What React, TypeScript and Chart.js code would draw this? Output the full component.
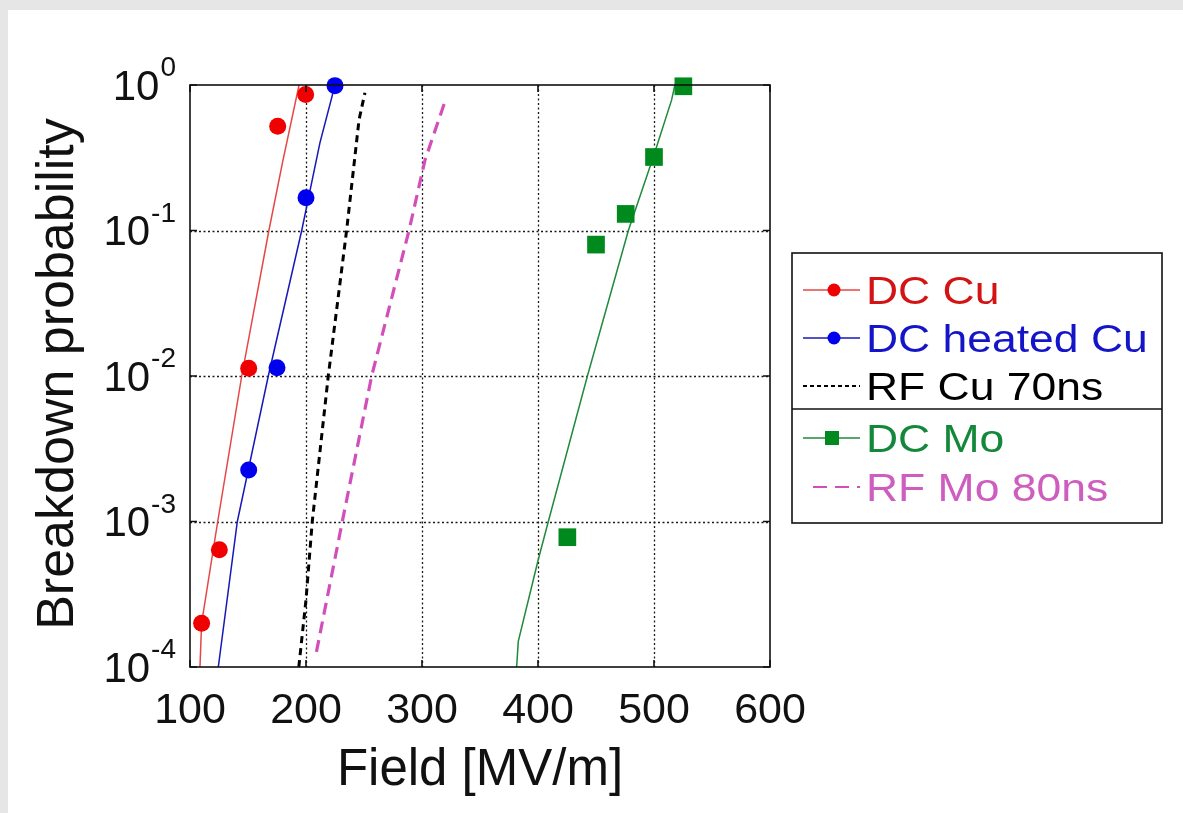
import React, { useEffect, useRef } from 'react';
import { Chart, registerables } from 'chart.js';

Chart.register(...registerables);

// ---------- data ----------
const xTicks = [100, 200, 300, 400, 500, 600];
const yTicks = [1e-4, 1e-3, 1e-2, 1e-1, 1];
const yTickExponents = ['-4', '-3', '-2', '-1', '0'];

const dcCuField = [110, 125.3, 150.6, 175.6, 199.7];
const dcCuProb = [2.0e-4, 6.4e-4, 0.0113, 0.52, 0.86];
const dcCuFitField = [108.6, 110, 123.9, 144.6, 168, 180, 194];
const dcCuFitProb = [1e-4, 2e-4, 1e-3, 1e-2, 1e-1, 0.3, 1];

const dcHeatedField = [150.6, 175, 200, 225];
const dcHeatedProb = [2.26e-3, 0.0114, 0.168, 0.99];
const dcHeatedFitField = [124.4, 140.8, 167.5, 196.3, 212, 225];
const dcHeatedFitProb = [1e-4, 1e-3, 1e-2, 1e-1, 0.4, 1];

const rfCuField = [193.8, 200, 205.4, 219.2, 235, 245.7, 250.8];
const rfCuProb = [1e-4, 2.9e-4, 1e-3, 1e-2, 1e-1, 0.575, 0.885];

const dcMoField = [425.3, 450, 475.6, 500, 525.3];
const dcMoProb = [7.8e-4, 0.08, 0.13, 0.32, 0.98];
const dcMoFitField = [381.6, 383, 400.3, 408.9, 442.6, 477.9, 499.4, 515.2, 518];
const dcMoFitProb = [1e-4, 1.5e-4, 5.5e-4, 1e-3, 1e-2, 1e-1, 0.32, 0.79, 1];

const rfMoField = [209, 231.3, 256.6, 288.8, 302.6, 319.8];
const rfMoProb = [1.27e-4, 1e-3, 1e-2, 1e-1, 0.305, 0.77];

const legendLabels = ['DC Cu', 'DC heated Cu', 'RF Cu 70ns', 'DC Mo', 'RF Mo 80ns'];

const xTitle = 'Field [MV/m]';
const yTitle = 'Breakdown probability';

// ---------- styles ----------
const FONT = '"Liberation Sans", Arial, Helvetica, sans-serif';
const RED = '#f00000';
const RED_LINE = 'rgb(230,70,70)';
const BLUE = '#0000ee';
const BLUE_LINE = '#1818b8';
const GREEN = '#008a1e';
const GREEN_LINE = '#1f8a3c';
const MAGENTA = '#d24fb9';

const pts = (xs: number[], ys: number[]) => xs.map((v, i) => ({ x: v, y: ys[i] }));

const customPlugin = {
  id: 'customDraw',
  beforeDraw(chart: any) {
    const { ctx, width, height } = chart;
    ctx.save();
    ctx.fillStyle = '#e6e6e6';
    ctx.fillRect(0, 0, width, height);
    ctx.fillStyle = '#ffffff';
    ctx.fillRect(8, 10, width - 8, height - 10);
    ctx.restore();
  },
  beforeDatasetsDraw(chart: any) {
    const { ctx, chartArea, scales } = chart;
    const { left, right, top, bottom } = chartArea;
    const x = scales.x;
    const y = scales.y;
    ctx.save();
    ctx.strokeStyle = '#1a1a1a';
    ctx.lineWidth = 1.3;
    ctx.setLineDash([2, 2.5]);
    xTicks.slice(1, -1).forEach((v) => {
      const px = Math.round(x.getPixelForValue(v)) + 0.5;
      ctx.beginPath();
      ctx.moveTo(px, top);
      ctx.lineTo(px, bottom);
      ctx.stroke();
    });
    yTicks.slice(1, -1).forEach((v) => {
      const py = Math.round(y.getPixelForValue(v)) + 0.5;
      ctx.beginPath();
      ctx.moveTo(left, py);
      ctx.lineTo(right, py);
      ctx.stroke();
    });
    ctx.restore();
  },
  afterDatasetsDraw(chart: any) {
    const { ctx, chartArea, scales } = chart;
    const { left, right, top, bottom } = chartArea;
    const x = scales.x;
    const y = scales.y;
    ctx.save();
    // frame
    ctx.setLineDash([]);
    ctx.strokeStyle = '#111';
    ctx.lineWidth = 1.6;
    ctx.strokeRect(left, top, right - left, bottom - top);
    // inward ticks
    const tl = 7;
    ctx.lineWidth = 1.6;
    xTicks.forEach((v) => {
      const px = x.getPixelForValue(v);
      ctx.beginPath();
      ctx.moveTo(px, bottom);
      ctx.lineTo(px, bottom - tl);
      ctx.moveTo(px, top);
      ctx.lineTo(px, top + tl);
      ctx.stroke();
    });
    yTicks.forEach((v) => {
      const py = y.getPixelForValue(v);
      ctx.beginPath();
      ctx.moveTo(left, py);
      ctx.lineTo(left + tl, py);
      ctx.moveTo(right, py);
      ctx.lineTo(right - tl, py);
      ctx.stroke();
    });

    // x tick labels
    ctx.fillStyle = '#111';
    ctx.font = `43px ${FONT}`;
    ctx.textAlign = 'center';
    ctx.textBaseline = 'alphabetic';
    xTicks.forEach((v) => {
      ctx.fillText(String(v), x.getPixelForValue(v), 723);
    });

    // y tick labels 10^n
    const rightEdge = 176;
    yTicks.forEach((v, i) => {
      const py = y.getPixelForValue(v);
      const exp = yTickExponents[i];
      ctx.textAlign = 'left';
      ctx.font = `28px ${FONT}`;
      const w2 = ctx.measureText(exp).width;
      ctx.font = `42px ${FONT}`;
      const w1 = ctx.measureText('10').width;
      ctx.fillText('10', rightEdge - w2 - w1 - 1, py + 14.5);
      ctx.font = `28px ${FONT}`;
      ctx.fillText(exp, rightEdge - w2, py - 9);
    });

    // titles
    ctx.font = `51px ${FONT}`;
    ctx.textAlign = 'center';
    ctx.fillText(xTitle, (left + right) / 2, 785);
    ctx.save();
    ctx.translate(73, (top + bottom) / 2 - 2);
    ctx.rotate(-Math.PI / 2);
    ctx.font = `52px ${FONT}`;
    ctx.fillText(yTitle, 0, 0);
    ctx.restore();

    // legend
    const bx = 792, by = 253, bw = 370, bh = 270;
    ctx.fillStyle = '#fff';
    ctx.fillRect(bx, by, bw, bh);
    ctx.strokeStyle = '#111';
    ctx.lineWidth = 1.6;
    ctx.strokeRect(bx, by, bw, bh);
    ctx.beginPath();
    ctx.moveTo(bx, 409);
    ctx.lineTo(bx + bw, 409);
    ctx.stroke();

    const rowsY = [290, 338, 386, 438, 487];
    const textColors = ['#d41414', '#1414c8', '#000000', '#13883a', '#cf5cbf'];
    const sx0 = 803, sx1 = 860, mx = 832;
    rowsY.forEach((ry, i) => {
      ctx.save();
      if (i === 0 || i === 1 || i === 3) {
        const lc = i === 0 ? RED_LINE : i === 1 ? BLUE_LINE : GREEN_LINE;
        const mc = i === 0 ? RED : i === 1 ? BLUE : GREEN;
        ctx.strokeStyle = lc;
        ctx.lineWidth = 1.5;
        ctx.setLineDash([]);
        ctx.beginPath();
        ctx.moveTo(sx0, ry);
        ctx.lineTo(sx1, ry);
        ctx.stroke();
        ctx.fillStyle = mc;
        if (i === 3) {
          ctx.fillRect(mx - 7, ry - 7, 14, 14);
        } else {
          ctx.beginPath();
          ctx.arc(mx + 2, ry, 6.5, 0, Math.PI * 2);
          ctx.fill();
        }
      } else if (i === 2) {
        ctx.strokeStyle = '#000';
        ctx.lineWidth = 2;
        ctx.setLineDash([4, 3]);
        ctx.beginPath();
        ctx.moveTo(sx0, ry);
        ctx.lineTo(sx1, ry);
        ctx.stroke();
      } else {
        ctx.strokeStyle = MAGENTA;
        ctx.lineWidth = 2;
        ctx.setLineDash([14, 8]);
        ctx.beginPath();
        ctx.moveTo(813, ry);
        ctx.lineTo(sx1, ry);
        ctx.stroke();
      }
      ctx.restore();
      ctx.save();
      ctx.translate(866, ry + 14);
      ctx.scale(1.17, 1);
      ctx.font = `38px ${FONT}`;
      ctx.textAlign = 'left';
      ctx.fillStyle = textColors[i];
      ctx.fillText(legendLabels[i], 0, 0);
      ctx.restore();
    });
    ctx.restore();
  },
};

export default function App() {
  const canvasRef = useRef<HTMLCanvasElement | null>(null);

  useEffect(() => {
    const canvas = canvasRef.current;
    if (!canvas) return;
    const chart = new Chart(canvas, {
      type: 'line',
      data: {
        datasets: [
          {
            label: 'DC Cu points',
            data: pts(dcCuField, dcCuProb),
            showLine: false,
            pointRadius: 8.5,
            pointBackgroundColor: RED,
            pointBorderColor: RED,
            pointBorderWidth: 0,
            clip: false,
          },
          {
            label: 'DC heated Cu points',
            data: pts(dcHeatedField, dcHeatedProb),
            showLine: false,
            pointRadius: 8.5,
            pointBackgroundColor: BLUE,
            pointBorderColor: BLUE,
            pointBorderWidth: 0,
            clip: false,
          },
          {
            label: 'DC Mo points',
            data: pts(dcMoField, dcMoProb),
            showLine: false,
            pointStyle: 'rect',
            pointRadius: 12.5,
            pointBackgroundColor: GREEN,
            pointBorderColor: GREEN,
            pointBorderWidth: 0,
            clip: false,
          },
          {
            label: 'DC Cu',
            data: pts(dcCuFitField, dcCuFitProb),
            borderColor: RED_LINE,
            borderWidth: 1.5,
            pointRadius: 0,
            tension: 0,
          },
          {
            label: 'DC heated Cu',
            data: pts(dcHeatedFitField, dcHeatedFitProb),
            borderColor: BLUE_LINE,
            borderWidth: 1.5,
            pointRadius: 0,
            tension: 0,
          },
          {
            label: 'RF Cu 70ns',
            data: pts(rfCuField, rfCuProb),
            borderColor: '#000',
            borderWidth: 3,
            borderDash: [7, 5],
            pointRadius: 0,
            tension: 0,
          },
          {
            label: 'DC Mo',
            data: pts(dcMoFitField, dcMoFitProb),
            borderColor: GREEN_LINE,
            borderWidth: 1.5,
            pointRadius: 0,
            tension: 0,
          },
          {
            label: 'RF Mo 80ns',
            data: pts(rfMoField, rfMoProb),
            borderColor: MAGENTA,
            borderWidth: 3.2,
            borderDash: [12, 7],
            pointRadius: 0,
            tension: 0,
          },
        ],
      },
      options: {
        animation: false,
        responsive: false,
        devicePixelRatio: 1,
        layout: { padding: { left: 0, top: 85, right: 413, bottom: 0 } },
        plugins: {
          legend: { display: false },
          tooltip: { enabled: false },
          title: { display: false },
        },
        scales: {
          x: {
            type: 'linear',
            min: 100,
            max: 600,
            grid: { display: false },
            border: { display: false },
            ticks: { display: false },
            afterBuildTicks: (s: any) => {
              s.ticks = xTicks.map((v) => ({ value: v }));
            },
            afterFit: (s: any) => {
              s.height = 146;
            },
          },
          y: {
            type: 'logarithmic',
            min: 1e-4,
            max: 1,
            grid: { display: false },
            border: { display: false },
            ticks: { display: false },
            afterBuildTicks: (s: any) => {
              s.ticks = yTicks.map((v) => ({ value: v }));
            },
            afterFit: (s: any) => {
              s.width = 190;
            },
          },
        },
      } as any,
      plugins: [customPlugin],
    });
    return () => chart.destroy();
  }, []);

  return (
    <div style={{ position: 'absolute', left: 0, top: 0, width: 1183, height: 813 }}>
      <canvas ref={canvasRef} width={1183} height={813} style={{ display: 'block' }} />
    </div>
  );
}
